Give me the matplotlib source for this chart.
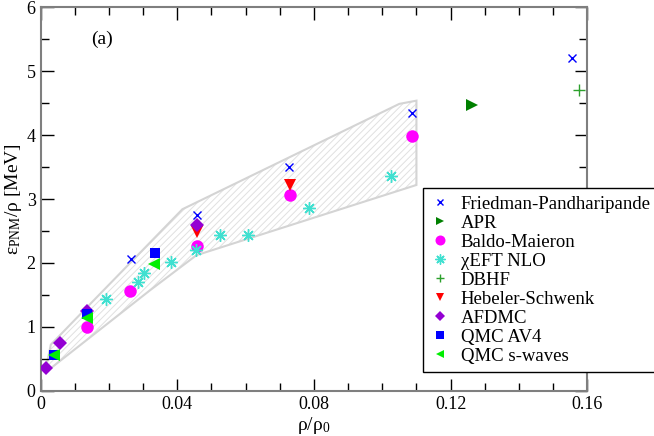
import numpy as np
import matplotlib
matplotlib.use("Agg")
import matplotlib.pyplot as plt
from matplotlib.ticker import MultipleLocator, FuncFormatter

plt.rcParams['font.family'] = ['Liberation Serif', 'DejaVu Serif']
plt.rcParams['mathtext.fontset'] = 'custom'
plt.rcParams['mathtext.rm'] = 'Liberation Serif'
plt.rcParams['mathtext.it'] = 'Liberation Serif:italic'
plt.rcParams['hatch.linewidth'] = 0.7

# datos
fp_x = [0.0264, 0.0457, 0.0727, 0.1088, 0.1554]
fp_y = [2.06, 2.754, 3.505, 4.34, 5.21]
apr_x = [0.1264]
apr_y = [4.47]
bm_x = [0.0135, 0.0263, 0.0457, 0.0730, 0.1087]
bm_y = [1.00, 1.56, 2.264, 3.07, 3.986]
eft_x = [0.0191, 0.0284, 0.0303, 0.0381, 0.0454, 0.0525, 0.0607, 0.0786, 0.1026]
eft_y = [1.435, 1.70, 1.837, 2.01, 2.20, 2.44, 2.44, 2.864, 3.36]
dbhf_x = [0.1575]
dbhf_y = [4.71]
hs_x = [0.0457, 0.0730]
hs_y = [2.478, 3.22]
afdmc_x = [0.00155, 0.0057, 0.0135, 0.0457]
afdmc_y = [0.35, 0.74, 1.247, 2.588]
av4_x = [0.0040, 0.0135, 0.0335]
av4_y = [0.554, 1.195, 2.15]
sw_x = [0.0040, 0.0135, 0.0332]
sw_y = [0.554, 1.133, 1.98]

# banda sombreada
banda_x = [0.0013, 0.0030, 0.0135, 0.0415, 0.1050, 0.1100, 0.1100, 0.0456, 0.0320, 0.0013]
banda_y = [0.28, 0.72, 1.30, 2.84, 4.49, 4.54, 3.22, 2.12, 1.57, 0.28]

fig = plt.figure(figsize=(6.54, 4.36), dpi=100)
ax = fig.add_axes([0.062, 0.104, 0.836, 0.879])

# rayado claro y borde aparte
ax.fill(banda_x, banda_y, facecolor='none', edgecolor='#e0e0e0', hatch='/////', linewidth=0, zorder=1)
ax.fill(banda_x, banda_y, facecolor='none', edgecolor='#d4d4d4', linewidth=1.5, zorder=1)

ax.plot(fp_x, fp_y, 'x', color='blue', ms=6, mew=1, label='Friedman-Pandharipande', zorder=3)
ax.plot(apr_x, apr_y, '>', color='#008000', ms=8, mew=0, label='APR', zorder=3)
ax.plot(bm_x, bm_y, 'o', color='magenta', ms=9, mew=0, label='Baldo-Maieron', zorder=3)
ax.plot(eft_x, eft_y, marker=(8, 2, 0), ls='none', color='#40E0D0', ms=9, mew=1, label='χEFT NLO', zorder=3)
ax.plot(dbhf_x, dbhf_y, '+', color='#2ca02c', ms=8, mew=1, label='DBHF', zorder=3)
ax.plot(hs_x, hs_y, 'v', color='red', ms=8, mew=0, label='Hebeler-Schwenk', zorder=3)
ax.plot(afdmc_x, afdmc_y, 'D', color='#9400D3', ms=7, mew=0, label='AFDMC', zorder=3)
ax.plot(av4_x, av4_y, 's', color='blue', ms=7, mew=0, label='QMC AV4', zorder=3)
ax.plot(sw_x, sw_y, '<', color='#00EE00', ms=8, mew=0, label='QMC s-waves', zorder=3)

ax.set_xlim(0, 0.16)
ax.set_ylim(0, 6)
ax.xaxis.set_major_locator(MultipleLocator(0.04))
ax.xaxis.set_minor_locator(MultipleLocator(0.01))
ax.yaxis.set_major_locator(MultipleLocator(1))
ax.yaxis.set_minor_locator(MultipleLocator(0.5))
ax.xaxis.set_major_formatter(FuncFormatter(lambda v, p: '0' if abs(v) < 1e-9 else f'{v:.2f}'))
ax.tick_params(which='both', direction='in', top=True, right=True, labelsize=13, width=1, color='black')
ax.tick_params(which='major', length=9)
ax.tick_params(which='minor', length=5.5)
for s in ax.spines.values():
    s.set_color('#7f7f7f')
    s.set_linewidth(1.5)

ax.set_xlabel(r'ρ/ρ$_0$', fontsize=14, labelpad=2)
ax.set_ylabel(r'ε$_{\mathrm{PNM}}$/ρ [MeV]', fontsize=14, labelpad=2)
ax.text(0.018, 5.5, '(a)', fontsize=14, ha='center', va='center')

leg = ax.legend(loc='upper left', bbox_to_anchor=(0.647, 0.569), bbox_transform=fig.transFigure,
                borderaxespad=0, fontsize=13.5, frameon=True, fancybox=False, edgecolor='black',
                framealpha=1, handletextpad=0.6, labelspacing=0.1, borderpad=0.4,
                handlelength=1.0, numpoints=1, markerscale=0.8)
leg.get_frame().set_linewidth(1)

fig.savefig('out.png', dpi=100)
